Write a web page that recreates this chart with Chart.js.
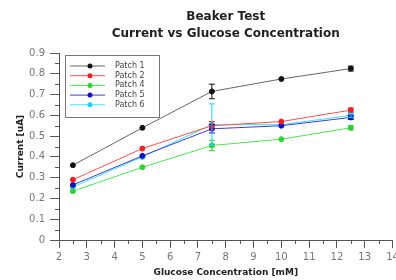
<!DOCTYPE html>
<html>
<head>
<meta charset="utf-8">
<script src="https://cdn.jsdelivr.net/npm/chart.js@4.4.1/dist/chart.umd.min.js"></script>
<style>
  html, body { margin: 0; padding: 0; background: #fff; }
  #wrap { width: 396px; height: 280px; }
</style>
</head>
<body>
<div id="wrap"><canvas id="chartBeaker"></canvas></div>
<script>
// glucose concentrations (mM)
var glucose = [2.5, 5, 7.5, 10, 12.5];

// current readings (uA) per patch
var patch1 = [0.36, 0.54, 0.715, 0.775, 0.825];
var patch2 = [0.29, 0.44, 0.55, 0.57, 0.625];
var patch4 = [0.235, 0.35, 0.455, 0.485, 0.54];
var patch5 = [0.265, 0.405, 0.535, 0.55, 0.59];
var patch6 = [0.255, 0.40, 0.555, 0.555, 0.60];

// error bar half-heights
var err1 = [0, 0, 0.035, 0, 0.012];
var err2 = [0, 0, 0.02, 0, 0.01];
var err4 = [0, 0, 0.025, 0, 0.01];
var err5 = [0, 0, 0.02, 0, 0.01];
var err6 = [0, 0, 0.10, 0, 0.01];

var seriesLabels = ["Patch 1", "Patch 2", "Patch 4", "Patch 5", "Patch 6"];
var yTicks = [0, 0.1, 0.2, 0.3, 0.4, 0.5, 0.6, 0.7, 0.8, 0.9];
var xTicks = [2, 3, 4, 5, 6, 7, 8, 9, 10, 11, 12, 13, 14];
var titleLines = ["Beaker Test", "Current vs Glucose Concentration"];

function toPoints(vals) {
    var pts = [];
    for (var i = 0; i < glucose.length; i++) {
        pts.push({x: glucose[i], y: vals[i]});
    }
    return pts;
}

function makeSet(label, vals, errs, lineColor, pointColor) {
    return {
        label: label,
        data: toPoints(vals),
        errors: errs,
        borderColor: lineColor,
        backgroundColor: pointColor,
        pointBackgroundColor: pointColor,
        pointBorderColor: pointColor,
        pointRadius: 2.5,
        pointHoverRadius: 2.5,
        borderWidth: 1,
        tension: 0,
        fill: false
    };
}

// error bars, drawn through the scales
var errorBars = {
    id: 'errorBars',
    afterDatasetsDraw(chart) {
        var ctx = chart.ctx;
        var xs = chart.scales.x, ys = chart.scales.y;
        chart.data.datasets.forEach((ds) => {
            ctx.save();
            ctx.strokeStyle = ds.pointBackgroundColor;
            ctx.lineWidth = 1;
            ds.data.forEach((p, i) => {
                var e = ds.errors[i];
                if (!e) return;
                var px = xs.getPixelForValue(p.x);
                var top = ys.getPixelForValue(p.y + e);
                var bot = ys.getPixelForValue(p.y - e);
                ctx.beginPath();
                ctx.moveTo(px, top); ctx.lineTo(px, bot);
                ctx.moveTo(px - 3, top); ctx.lineTo(px + 3, top);
                ctx.moveTo(px - 3, bot); ctx.lineTo(px + 3, bot);
                ctx.stroke();
            });
            ctx.restore();
        });
    }
};

// minor ticks, title and boxed legend
var decorations = {
    id: 'decorations',
    afterDraw(chart) {
        var ctx = chart.ctx;
        var xs = chart.scales.x, ys = chart.scales.y;
        var area = chart.chartArea;
        ctx.save();
        ctx.strokeStyle = '#555';
        ctx.lineWidth = 1;
        ctx.beginPath();
        for (var v = 2.5; v < 14; v += 1) {
            var px = Math.round(xs.getPixelForValue(v)) + 0.5;
            ctx.moveTo(px, area.bottom); ctx.lineTo(px, area.bottom + 4);
        }
        for (var w = 0.05; w < 0.9; w += 0.1) {
            var py = Math.round(ys.getPixelForValue(w)) + 0.5;
            ctx.moveTo(area.left, py); ctx.lineTo(area.left - 4, py);
        }
        ctx.stroke();

        // title centred over plot area
        ctx.fillStyle = '#222';
        ctx.font = 'bold 12px "DejaVu Sans"';
        ctx.textAlign = 'center';
        ctx.textBaseline = 'middle';
        var cx = (area.left + area.right) / 2;
        ctx.fillText(titleLines[0], cx, 17);
        ctx.fillText(titleLines[1], cx, 34);

        // legend box
        var lx = area.left + 6, ly = area.top + 2;
        ctx.strokeStyle = '#777';
        ctx.lineWidth = 1;
        ctx.strokeRect(lx + 0.5, ly + 0.5, 94, 62);
        ctx.font = '8px "DejaVu Sans"';
        ctx.textAlign = 'left';
        chart.data.datasets.forEach((ds, i) => {
            var ry = ly + 11 + i * 9.7;
            ctx.strokeStyle = ds.borderColor;
            ctx.beginPath();
            ctx.moveTo(lx + 5, ry); ctx.lineTo(lx + 40, ry);
            ctx.stroke();
            ctx.fillStyle = ds.pointBackgroundColor;
            ctx.beginPath();
            ctx.arc(lx + 25, ry, 2.5, 0, Math.PI * 2);
            ctx.fill();
            ctx.fillStyle = '#444';
            ctx.fillText(ds.label, lx + 50, ry);
        });
        ctx.restore();
    }
};

function buildChart() {
    var ctx = document.getElementById('chartBeaker');
    var chart = new Chart(ctx, {
        type: 'line',
        data: {
            datasets: [
                makeSet(seriesLabels[0], patch1, err1, '#666', '#111'),
                makeSet(seriesLabels[1], patch2, err2, '#ff5050', '#ee2020'),
                makeSet(seriesLabels[2], patch4, err4, '#50e050', '#30d030'),
                makeSet(seriesLabels[3], patch5, err5, '#4040cc', '#1010c0'),
                makeSet(seriesLabels[4], patch6, err6, '#40e0ff', '#20d0f0')
            ]
        },
        options: {
            responsive: true,
            maintainAspectRatio: false,
            animation: false,
            layout: { padding: { top: 53, right: 2, left: 0, bottom: 0 } },
            plugins: {
                legend: { display: false },
                tooltip: { enabled: false },
                title: { display: false }
            },
            scales: {
                x: {
                    type: 'linear',
                    min: 2,
                    max: 14,
                    afterBuildTicks: (s) => { s.ticks = xTicks.map((v) => ({value: v})); },
                    afterFit: (s) => { s.height = 40; s.paddingRight = 0; s.paddingLeft = 0; },
                    grid: { drawOnChartArea: false, tickLength: 8, color: '#555' },
                    border: { color: '#555' },
                    ticks: { color: '#777', font: { family: 'DejaVu Sans', size: 10 }, padding: 3 },
                    title: {
                        display: true,
                        text: 'Glucose Concentration [mM]',
                        color: '#222',
                        font: { family: 'DejaVu Sans', size: 9, weight: 'bold' },
                        padding: { top: 0, bottom: 2 }
                    }
                },
                y: {
                    min: 0,
                    max: 0.9,
                    afterBuildTicks: (s) => { s.ticks = yTicks.map((v) => ({value: v})); },
                    afterFit: (s) => { s.width = 59; s.paddingTop = 0; s.paddingBottom = 0; },
                    grid: { drawOnChartArea: false, tickLength: 9, color: '#555' },
                    border: { color: '#555' },
                    ticks: {
                        color: '#777',
                        font: { family: 'DejaVu Sans', size: 10 },
                        padding: 5,
                        callback: (v) => v === 0 ? '0' : v.toFixed(1)
                    },
                    title: {
                        display: true,
                        text: 'Current [uA]',
                        color: '#222',
                        font: { family: 'DejaVu Sans', size: 9, weight: 'bold' },
                        padding: { top: 15, bottom: 0 }
                    }
                }
            }
        },
        plugins: [errorBars, decorations]
    });
}

buildChart();
</script>
</body>
</html>
